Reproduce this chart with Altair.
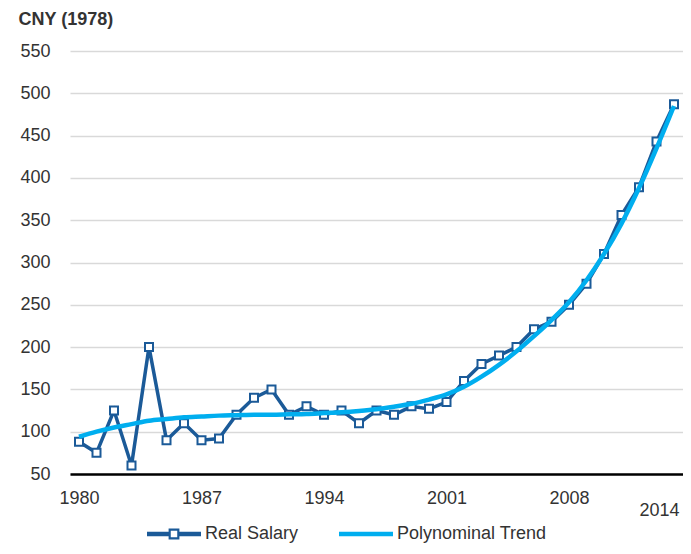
import altair as alt
import pandas as pd

# ---- data ----
years = list(range(1980, 2015))
salary = [88, 75, 125, 60, 200, 90, 110, 90, 92, 120,
          140, 150, 120, 130, 120, 125, 110, 125, 120, 130,
          127, 135, 160, 180, 190, 200, 221, 230, 250, 275,
          310, 356, 389, 443, 487]
trend_vals = [94, 100, 105, 109, 113, 115, 117, 118, 119, 119.5,
              120, 120, 120.5, 121, 122, 123, 124.5, 126.5, 129.5, 133,
              138, 144, 153, 165, 179, 195, 213, 232, 253, 279,
              310, 346, 388, 435, 485]
series_names = ["Real Salary", "Polynominal Trend"]
tick_years = [1980, 1987, 1994, 2001, 2008, 2014]
y_ticks = list(range(50, 551, 50))

DARK = "#1b5a98"
LIGHT = "#00aeef"
TEXT = "#333333"
FONT = "Liberation Sans, Arial, sans-serif"

df = pd.DataFrame({
    "year": years * 2,
    "value": salary + trend_vals,
    "series": [series_names[0]] * len(years) + [series_names[1]] * len(years),
})

step_pad = 9 / 17.5
xs = alt.Scale(domain=[years[0] - step_pad, years[-1] + step_pad], nice=False, zero=False)
ys = alt.Scale(domain=[50, 550], nice=False, zero=False)
cs = alt.Scale(domain=series_names, range=[DARK, LIGHT])

# legend symbols: line with open square / plain line (unit-box svg paths)
P1 = ("M-1,-0.08H-0.2V0.08H-1Z M0.2,-0.08H1V0.08H0.2Z "
      "M-0.2,-0.2H0.2V0.2H-0.2Z M-0.12,-0.12V0.12H0.12V-0.12Z")
P2 = "M-1,-0.08H1V0.08H-1Z"
ss = alt.Scale(domain=series_names, range=[P1, P2])

x_axis = alt.Axis(
    values=tick_years, format="d", title=None, grid=False, ticks=False,
    domain=True, domainColor="black", domainWidth=2.5,
    labelFontSize=18, labelColor=TEXT, labelFont=FONT,
    labelPadding={"condition": {"test": "datum.value === 2014", "value": 27}, "value": 15},
    labelOffset={"condition": {"test": "datum.value === 2014", "value": -15}, "value": 0},
    labelFlush=False, labelOverlap=False, zindex=1,
)
y_axis = alt.Axis(
    values=y_ticks, title="CNY (1978)", titleAngle=0, titleAlign="left",
    titleBaseline="alphabetic", titleX=-52, titleY=-27, titleFontWeight="bold",
    titleFontSize=18, titleColor=TEXT, titleFont=FONT,
    grid=True, gridColor="#d9d9d9", gridWidth=1.5, domain=False, ticks=False,
    labelPadding=20, labelFontSize=18, labelColor=TEXT, labelFont=FONT,
)

legend = alt.Legend(
    title=None, orient="none", legendX=77, legendY=456, direction="horizontal",
    symbolSize=2916, labelFontSize=18, labelFont=FONT, labelColor=TEXT,
    labelOffset=4, columnPadding=40, padding=0, symbolStrokeWidth=0,
    symbolOpacity=1,
)

x_enc = alt.X("year:Q", scale=xs, axis=x_axis)
y_enc = alt.Y("value:Q", scale=ys, axis=y_axis)
c_enc = alt.Color("series:N", scale=cs, legend=legend)

base = alt.Chart(df)
line = base.transform_filter(alt.datum.series == series_names[0]).mark_line(
    strokeWidth=3.5).encode(x=x_enc, y=y_enc, color=c_enc)
points = base.transform_filter(alt.datum.series == series_names[0]).mark_point(
    shape="square", filled=True, fill="white", stroke=DARK, strokeWidth=2, size=64, opacity=1
).encode(x=x_enc, y=y_enc)
trend = base.transform_filter(alt.datum.series == series_names[1]).mark_line(
    strokeWidth=4.5, interpolate="monotone").encode(x=x_enc, y=y_enc, color=c_enc)
# carries the legend symbols only (draws no marks)
legend_layer = (
    base.transform_filter("false")
    .mark_point(filled=True, opacity=1)
    .encode(x=x_enc, y=y_enc, color=c_enc,
            shape=alt.Shape("series:N", scale=ss, legend=legend))
)

chart = (
    alt.layer(line, points, trend, legend_layer)
    .properties(
        width=613, height=423,
        padding={"left": 62, "top": 43, "right": 0, "bottom": 72},
        autosize=alt.AutoSizeParams(type="none"),
    )
    .configure_view(stroke=None)
)

chart.save("out.html", embed_options={"renderer": "svg", "actions": False})
